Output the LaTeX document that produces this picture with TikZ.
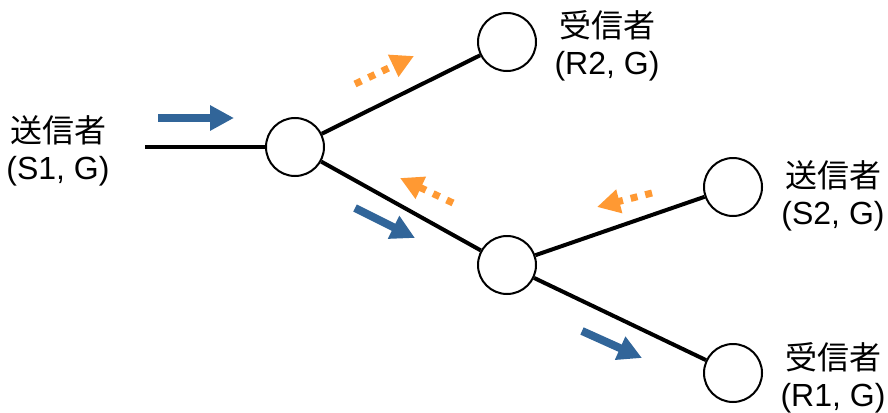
\documentclass[tikz,border=0pt]{standalone}
\usepackage{fontspec}
\setmainfont{Liberation Sans}
\newfontfamily\cjk{Noto Sans CJK JP}
\usetikzlibrary{arrows.meta}
\definecolor{flowblue}{RGB}{49,101,153}
\definecolor{floworange}{RGB}{255,153,51}
\begin{document}
\begin{tikzpicture}[x=1pt,y=-1pt,
    router/.style={circle,draw,line width=2pt,fill=white,minimum size=58pt,inner sep=0pt},
    link/.style={line width=4pt},
    hostlabel/.style={align=center,font=\fontsize{32}{37}\selectfont},
    dataflow/.style={flowblue,line width=8pt,-{Triangle[length=24pt,width=24pt]}},
    joinflow/.style={floworange,line width=7pt,dash pattern=on 7pt off 8pt,-{Triangle[length=23pt,width=23pt]}}]
    \useasboundingbox (0,0) rectangle (888,412);
    \coordinate (s1end) at (145,147);
    \node[router] (ra) at (295,147) {};
    \node[router] (rb) at (507,42) {};
    \node[router] (rc) at (507,265) {};
    \node[router] (rd) at (733,187) {};
    \node[router] (re) at (733,373) {};
    \draw[link] (s1end) -- (ra);
    \draw[link] (ra) -- (rb);
    \draw[link] (ra) -- (rc);
    \draw[link] (rc) -- (rd);
    \draw[link] (rc) -- (re);
    \node[hostlabel] (s1) at (58,151) {{\cjk 送信者}\\(S1, G)};
    \node[hostlabel] (r2) at (607,46) {{\cjk 受信者}\\(R2, G)};
    \node[hostlabel] (s2) at (833,196) {{\cjk 送信者}\\(S2, G)};
    \node[hostlabel] (r1) at (833,378) {{\cjk 受信者}\\(R1, G)};
    \draw[dataflow] (158,118) -- (234,118);
    \draw[dataflow] (355,208) -- (415,238);
    \draw[dataflow] (582,331) -- (642,358);
    \draw[joinflow] (355,84) -- (414,56);
    \draw[joinflow] (453,203) -- (400,178);
    \draw[joinflow] (652,193) -- (597,207);
\end{tikzpicture}
\end{document}
